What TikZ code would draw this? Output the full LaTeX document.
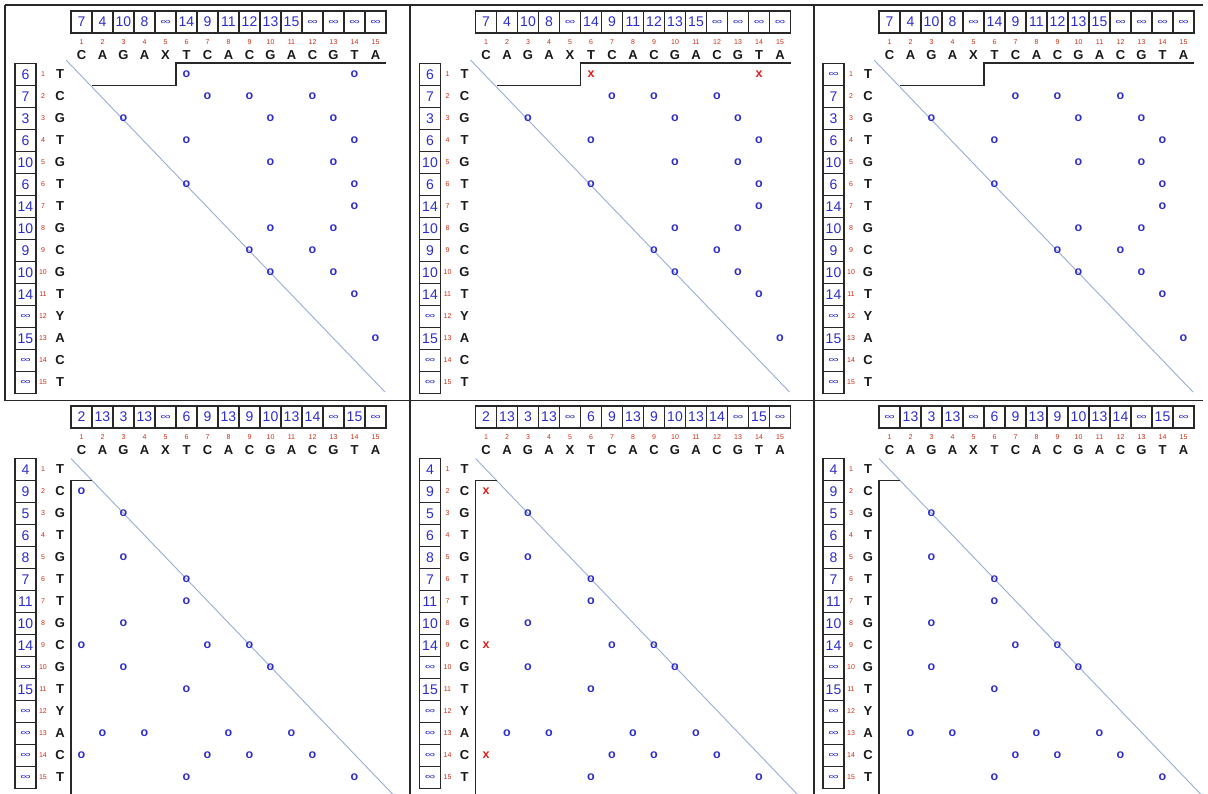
\documentclass[tikz,border=0pt]{standalone}
\usepackage{fontspec}
\setmainfont{Liberation Sans}
\definecolor{numblue}{RGB}{45,45,205}
\definecolor{idxred}{RGB}{205,45,20}
\definecolor{missred}{RGB}{225,30,30}
\definecolor{diagblue}{RGB}{150,175,215}
\definecolor{gridgray}{RGB}{40,40,40}
\newcommand\infs{\scalebox{1.05}[0.6]{∞}}
\tikzset{
  valbox/.style={draw=gridgray, line width=1.1bp, minimum width=21bp, minimum height=22bp,
    inner sep=0pt, text=numblue, font=\fontsize{14bp}{14bp}\selectfont},
  idxnum/.style={text=idxred, font=\fontsize{7bp}{7bp}\selectfont, inner sep=0pt},
  letter/.style={text=black!90, font=\bfseries\fontsize{13bp}{13bp}\selectfont, inner sep=0pt},
  hit/.style={text=numblue, font=\bfseries\fontsize{12.5bp}{12.5bp}\selectfont, inner sep=0pt},
  miss/.style={text=missred, font=\bfseries\fontsize{12.5bp}{12.5bp}\selectfont, inner sep=0pt},
  diag/.style={draw=diagblue, line width=0.9bp},
  stepline/.style={draw=gridgray, line width=1.3bp},
  framel/.style={draw=gridgray, line width=1.2bp}
}
% #1 name, #2 X0, #3 Y0, #4 top values, #5 row values
\newcommand\drawpanel[5]{%
  \foreach \v [count=\j] in {#4}
    \node[valbox] (#1t\j) at ({#2+21*(\j-0.5)},{#3-41.5}) {\v};
  \foreach \c [count=\j] in {C,A,G,A,X,T,C,A,C,G,A,C,G,T,A}{
    \node[idxnum] (#1cn\j) at ({#2+21*(\j-0.5)},{#3-21}) {\j};
    \node[letter] (#1cl\j) at ({#2+21*(\j-0.5)},{#3-8}) {\c};
  }
  \foreach \v [count=\i] in {#5}
    \node[valbox] (#1r\i) at ({#2-45.5},{#3+22*(\i-0.5)}) {\v};
  \foreach \c [count=\i] in {T,C,G,T,G,T,T,G,C,G,T,Y,A,C,T}{
    \node[idxnum] (#1rn\i) at ({#2-28},{#3+22*(\i-0.5)}) {\i};
    \node[letter] (#1rl\i) at ({#2-11},{#3+22*(\i-0.5)}) {\c};
  }
}
% #1 name, #2 X0, #3 Y0, #4 style, #5 symbol, #6 list macro of i/j
\newcommand\placemarks[6]{%
  \foreach \i/\j in #6
    \node[#4] (#1m\i-\j) at ({#2+21*(\j-0.5)},{#3+22*(\i-0.5)}) {#5};
}
\newcommand\topdiag[3]{%
  \coordinate (#1ds) at ({#2-5},{#3-3.5});
  \coordinate (#1de) at ({#2+314},{#3+328.5});
  \draw[diag] (#1ds) -- (#1de);
  \coordinate (#1s1) at ({#2+315},{#3-0.5});
  \coordinate (#1s2) at ({#2+105},{#3-0.5});
  \coordinate (#1s3) at ({#2+105},{#3+22});
  \coordinate (#1s4) at ({#2+21},{#3+22});
  \draw[stepline] (#1s1) -- (#1s2) -- (#1s3) -- (#1s4);
}
\newcommand\botdiag[3]{%
  \coordinate (#1ds) at ({#2},{#3});
  \coordinate (#1de) at ({#2+322},{#3+336});
  \draw[diag] (#1ds) -- (#1de);
  \coordinate (#1s1) at ({#2+21},{#3+22});
  \coordinate (#1s2) at ({#2},{#3+22});
  \coordinate (#1s3) at ({#2},{796});
  \draw[stepline] (#1s1) -- (#1s2) -- (#1s3);
}
\newcommand\topfirst{1/6,1/14}
\newcommand\colfirst{2/1,9/1,14/1}
\newcommand\toprest{2/7,2/9,2/12,3/3,3/10,3/13,4/6,4/14,5/10,5/13,6/6,6/14,7/14,8/10,8/13,9/9,9/12,10/10,10/13,11/14,13/15}
\newcommand\botrest{3/3,5/3,6/6,7/6,8/3,9/7,9/9,10/3,10/10,11/6,13/2,13/4,13/8,13/11,14/7,14/9,14/12,15/6,15/14}
\begin{document}
\begin{tikzpicture}[x=1bp,y=-1bp]
\useasboundingbox[fill=white] (0,0) rectangle (1208,794);
% frame
\coordinate (f1) at (5,5);
\coordinate (f2) at (1203,5);
\coordinate (f3) at (5,400.5);
\coordinate (f4) at (1203,400.5);
\coordinate (v1a) at (410,5);
\coordinate (v1b) at (410,796);
\coordinate (v2a) at (814,5);
\coordinate (v2b) at (814,796);
\draw[framel] (f1) -- (f2);
\draw[framel] (f1) -- (f3);
\draw[framel] (f3) -- (f4);
\draw[framel] (v1a) -- (v1b);
\draw[framel] (v2a) -- (v2b);

% panel A (top left)
\topdiag{A}{71}{63.5}
\drawpanel{A}{71}{63.5}{7,4,10,8,\infs,14,9,11,12,13,15,\infs,\infs,\infs,\infs}{6,7,3,6,10,6,14,10,9,10,14,\infs,15,\infs,\infs}
\placemarks{A}{71}{63.5}{hit}{o}{\topfirst}
\placemarks{A}{71}{63.5}{hit}{o}{\toprest}

% panel B (top middle)
\topdiag{B}{475.5}{63.5}
\drawpanel{B}{475.5}{63.5}{7,4,10,8,\infs,14,9,11,12,13,15,\infs,\infs,\infs,\infs}{6,7,3,6,10,6,14,10,9,10,14,\infs,15,\infs,\infs}
\placemarks{B}{475.5}{63.5}{miss}{x}{\topfirst}
\placemarks{B}{475.5}{63.5}{hit}{o}{\toprest}

% panel C (top right)
\topdiag{C}{879}{63.5}
\drawpanel{C}{879}{63.5}{7,4,10,8,\infs,14,9,11,12,13,15,\infs,\infs,\infs,\infs}{\infs,7,3,6,10,6,14,10,9,10,14,\infs,15,\infs,\infs}
\placemarks{C}{879}{63.5}{hit}{o}{\toprest}

% panel D (bottom left)
\botdiag{D}{71}{458.5}
\drawpanel{D}{71}{458.5}{2,13,3,13,\infs,6,9,13,9,10,13,14,\infs,15,\infs}{4,9,5,6,8,7,11,10,14,\infs,15,\infs,\infs,\infs,\infs}
\placemarks{D}{71}{458.5}{hit}{o}{\colfirst}
\placemarks{D}{71}{458.5}{hit}{o}{\botrest}

% panel E (bottom middle)
\botdiag{E}{475.5}{458.5}
\drawpanel{E}{475.5}{458.5}{2,13,3,13,\infs,6,9,13,9,10,13,14,\infs,15,\infs}{4,9,5,6,8,7,11,10,14,\infs,15,\infs,\infs,\infs,\infs}
\placemarks{E}{475.5}{458.5}{miss}{x}{\colfirst}
\placemarks{E}{475.5}{458.5}{hit}{o}{\botrest}

% panel F (bottom right)
\botdiag{F}{879}{458.5}
\drawpanel{F}{879}{458.5}{\infs,13,3,13,\infs,6,9,13,9,10,13,14,\infs,15,\infs}{4,9,5,6,8,7,11,10,14,\infs,15,\infs,\infs,\infs,\infs}
\placemarks{F}{879}{458.5}{hit}{o}{\botrest}
\end{tikzpicture}
\end{document}
